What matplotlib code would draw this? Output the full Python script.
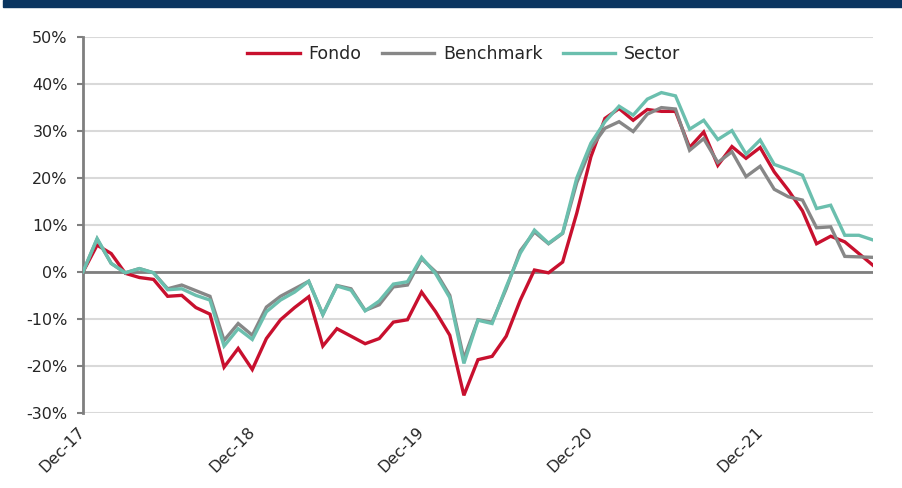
import matplotlib
matplotlib.use("Agg")
import matplotlib.pyplot as plt
from matplotlib.patches import Rectangle
from matplotlib.ticker import FuncFormatter

fondo = [0, 5.7, 3.9, -0.3, -1.2, -1.6, -5.2, -5.0, -7.6, -9.0,
         -20.3, -16.3, -20.8, -14.2, -10.2, -7.6, -5.3, -15.8, -12.1, -13.7,
         -15.3, -14.2, -10.7, -10.2, -4.3, -8.5, -13.5, -26.3, -18.7, -18.0,
         -13.7, -6.0, 0.4, -0.2, 2.1, 12.5, 24.5, 32.7, 34.8, 32.3,
         34.6, 34.2, 34.2, 26.5, 29.8, 22.7, 26.7, 24.2, 26.5, 21.3,
         17.4, 13.0, 6.0, 7.6, 6.4, 3.9, 1.4]
benchmark = [0, 7.0, 1.8, -0.2, 0.7, -0.2, -3.6, -2.8, -4.0, -5.2,
             -14.6, -11.0, -13.5, -7.5, -5.2, -3.6, -2.0, -9.1, -2.9, -3.6,
             -8.2, -7.0, -3.2, -2.8, 2.8, 0.0, -5.0, -18.5, -10.2, -10.7,
             -3.6, 4.5, 8.5, 6.0, 8.2, 19.0, 26.4, 30.6, 32.0, 29.9,
             33.6, 35.0, 34.7, 25.9, 28.4, 23.3, 25.6, 20.3, 22.5, 17.6,
             16.0, 15.3, 9.4, 9.6, 3.3, 3.2, 3.1]
sector = [0, 7.1, 1.8, -0.2, 0.7, -0.2, -3.8, -3.6, -5.0, -6.0,
          -15.8, -12.1, -14.4, -8.5, -6.0, -4.3, -2.0, -9.1, -3.0, -3.9,
          -8.3, -6.2, -2.6, -2.1, 3.1, -0.4, -5.5, -19.5, -10.3, -11.0,
          -3.2, 4.0, 8.9, 6.1, 8.3, 20.0, 27.4, 32.0, 35.3, 33.4,
          36.8, 38.2, 37.5, 30.4, 32.3, 28.2, 30.1, 25.1, 28.1, 22.9,
          21.8, 20.6, 13.5, 14.2, 7.8, 7.8, 6.8]
series_names = ["Fondo", "Benchmark", "Sector"]
series_colors = ["#c8102e", "#878787", "#6bbfae"]
tick_positions = [0, 12, 24, 36, 48]
tick_labels = ["Dec-17", "Dec-18", "Dec-19", "Dec-20", "Dec-21"]
y_ticks = [-30, -20, -10, 0, 10, 20, 30, 40, 50]

plt.rcParams['font.family'] = ['DejaVu Sans']

fig = plt.figure(figsize=(9.03, 4.88), dpi=100)
fig.patches.append(Rectangle((3/903, 1 - 7/488), 1, 7/488, transform=fig.transFigure,
                             color="#0a3560", zorder=10))

ax = fig.add_axes([83/903, 1 - 412.7/488, 790/903, (412.7 - 37.2)/488])

x = list(range(len(fondo)))
for vals, name, col in zip([fondo, benchmark, sector], series_names, series_colors):
    ax.plot(x, vals, color=col, lw=2.4, label=name, solid_joinstyle='miter', zorder=3)

ax.set_xlim(0, len(fondo) - 1)
ax.set_ylim(-30, 50)
ax.set_yticks(y_ticks)
ax.yaxis.set_major_formatter(FuncFormatter(lambda v, p: f"{int(v)}%"))
ax.grid(axis='y', color='#d9d9d9', lw=1.5, zorder=0)
ax.axhline(0, color='#7f7f7f', lw=2, zorder=2)

for s in ['top', 'right', 'bottom']:
    ax.spines[s].set_visible(False)
ax.spines['left'].set_color('#7f7f7f')
ax.spines['left'].set_linewidth(2)

ax.tick_params(axis='y', length=4, width=1.5, color='#7f7f7f', pad=7, labelsize=11.5,
               labelcolor='#262626')
ax.set_xticks(tick_positions)
ax.set_xticklabels(tick_labels, rotation=45, ha='right', va='center', rotation_mode='anchor')
ax.tick_params(axis='x', length=0, pad=12, labelsize=11.5, labelcolor='#262626')

leg = ax.legend(loc='center', bbox_to_anchor=(0.482, 0.955), ncol=3, frameon=False,
                fontsize=12.5, handlelength=3.0, columnspacing=1.2, handletextpad=0.5)
for t in leg.get_texts():
    t.set_color('#262626')

fig.savefig("out.png", dpi=100)
